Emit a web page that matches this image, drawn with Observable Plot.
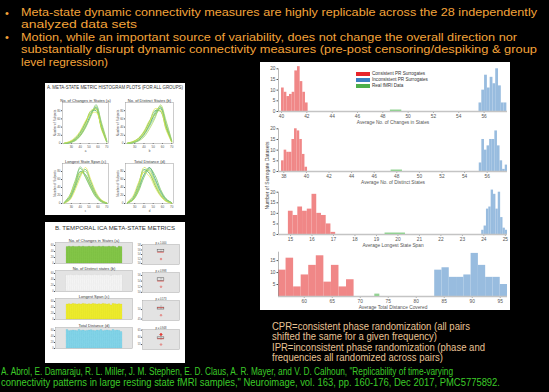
<!DOCTYPE html>
<html><head><meta charset="utf-8">
<script src="https://cdn.jsdelivr.net/npm/d3@7"></script>
<script src="https://cdn.jsdelivr.net/npm/@observablehq/plot@0.6"></script>
<style>
html,body{margin:0;padding:0;background:#000;}
#root{position:relative;width:549px;height:392px;overflow:hidden;background:#000;font-family:"Liberation Sans",Arial,sans-serif;}
.abs{position:absolute;white-space:nowrap;transform-origin:0 50%;}
.panel{position:absolute;background:#fff;overflow:hidden;}
.panel svg{position:absolute;overflow:visible;}
</style></head><body><div id="root"></div>
<script>
// ---------------- DATA ----------------
const bulletLines = [
  "Meta-state dynamic connectivity measures are highly replicable across the 28 independently",
  "analyzed data sets",
  "Motion, while an important source of variability, does not change the overall direction nor",
  "substantially disrupt dynamic connectivity measures (pre-post censoring/despiking & group",
  "level regression)"
];
const captionLines = [
  "CPR=consistent phase randomization (all pairs",
  "shifted the same for a given frequency)",
  "IPR=inconsistent phase randomization (phase and",
  "frequencies all randomized across pairs)"
];
const citationLines = [
  "A. Abrol, E. Damaraju, R. L. Miller, J. M. Stephen, E. D. Claus, A. R. Mayer, and V. D. Calhoun, \"Replicability of time-varying",
  "connectivity patterns in large resting state fMRI samples,\" Neuroimage, vol. 163, pp. 160-176, Dec 2017, PMC5775892."
];
const seriesNames = ["Consistent PR Surrogates", "Inconsistent PR Surrogates", "Real fMRI Data"];
const histLabels = ["Average No. of Changes in States", "Average No. of Distinct States", "Average Longest State Span", "Average Total Distance Covered"];
const yAxisTitle = "Number of Surrogate Datasets";

// histogram 1: changes in states
const chgRedEdges = [40.0,40.21,40.42,40.63,40.84,41.05,41.26,41.47,41.68,41.89,42.1];
const chgRedCounts = [11,9,7,8,9,19,21,14,9,4];
const chgBlueEdges = [55.6,55.82,56.04,56.26,56.48,56.7,56.92,57.14,57.36,57.58,57.8];
const chgBlueCounts = [4,10,17,11,16,13,20,12,4,4];
const chgGreenEdges = [48.6,49.5];
const chgGreenCounts = [0.7];
const chgTicks = [40,42,44,46,48,50,52,54,56];

// histogram 2: distinct states
const dstRedEdges = [37.8,38.03,38.26,38.49,38.72,38.95,39.18,39.41,39.64,39.87,40.1];
const dstRedCounts = [5,10,9,9,15,20,19,15,8,2];
const dstBlueEdges = [55.3,55.53,55.76,55.99,56.22,56.45,56.68,56.91,57.14,57.37,57.6,57.8];
const dstBlueCounts = [4,15,10,12,15,15,19,12,5,1,3];
const dstGreenEdges = [47.5,48.5];
const dstGreenCounts = [0.7];
const dstTicks = [38,40,42,44,46,48,50,52,54,56];

// histogram 3: longest state span
const spnRedEdges = [14.9,15.12,15.34,15.56,15.78,16.0,16.22,16.44,16.66,16.88,17.1];
const spnRedCounts = [11,9,13,11,12,19,10,9,5,1];
const spnBlueEdges = [23.9,24.01,24.12,24.23,24.34,24.45,24.56,24.67,24.78,24.89,25.0,25.1];
const spnBlueCounts = [2,4,12,13,21,19,12,20,8,3,2];
const spnGreenEdges = [19.4,20.35];
const spnGreenCounts = [0.7];
const spnTicks = [15,16,17,18,19,20,21,22,23,24,25];

// histogram 4: total distance covered
const dstcRedEdges = [55.4,56.75,58.1,59.45,60.8,62.15,63.5,64.85,66.2,67.55,68.9];
const dstcRedCounts = [11,16,4,9,13,17,6,13,4,7];
const dstcBlueEdges = [83.3,84.6,85.9,87.2,88.5,89.8,91.1,92.4,93.7,95.0,96.3];
const dstcBlueCounts = [11,12,8,8,9,18,13,8,8,5];
const dstcGreenEdges = [72.6,73.5];
const dstcGreenCounts = [1];
const dstcTicks = [60,65,70,75,80,85,90,95];

// panel A: per-group histogram curves
const panelATitle = "A.  META-STATE METRIC HISTOGRAM PLOTS (FOR ALL GROUPS)";
const curveTitles = ["No. of Changes in States (a)", "No. of Distinct States (b)", "Longest State Span (c)", "Total Distance (d)"];
const curveLetters = ["a","b","c","d"];
const curveX = [22,28,34,40,46,52,58,64,70];
const changesCurves = [
  [0,2,8,20,42,70,88,45,5],[0,3,10,25,50,78,80,38,4],[1,4,12,28,52,74,85,40,6],
  [0,2,6,18,38,66,92,52,8],[0,3,9,22,46,80,84,35,3],[1,5,14,30,55,72,76,42,7],[0,2,7,19,40,68,95,48,5]];
const distinctCurves = [
  [0,2,8,22,45,72,86,42,4],[1,4,12,28,54,80,78,36,5],[0,3,9,24,48,76,90,44,6],
  [0,2,6,16,36,62,94,55,8],[1,5,13,30,56,70,82,40,5],[0,3,10,25,50,85,80,33,3],[0,2,7,20,42,66,88,50,7]];
const spanCurves = [
  [2,15,45,80,72,45,20,6,1],[1,10,38,70,85,55,25,8,1],[3,20,55,88,65,38,15,4,0],
  [1,12,40,75,80,50,22,7,1],[2,18,50,78,70,42,18,5,1],[1,8,32,65,90,60,28,9,2],[2,14,46,92,68,40,17,5,1]];
const distanceCurves = [
  [1,10,35,72,90,62,30,10,2],[2,15,48,85,75,45,20,6,1],[1,8,30,65,88,70,35,12,2],
  [2,12,42,80,82,52,24,8,1],[1,9,36,90,78,48,22,7,1],[3,18,52,78,68,40,18,5,1],[1,11,40,70,85,58,28,9,2]];
const curveXTicks = [30,40,50,60,70];
const curveYTicks = [0,20,40,60,80];

// panel B: temporal ICA metrics over 28 datasets
const panelBTitle = "B.     TEMPORAL ICA META-STATE METRICS";
const barTitles = ["No. of Changes in States (a)", "No. of Distinct states (b)", "Longest Span (c)", "Total Distance (d)"];
const datasetIds = d3.range(1, 29);
const changesDS = [55,56,55,56,55,55,56,55,56,55,55,56,55,56,55,55,56,55,56,55,55,56,55,56,55,52,56,55];
const distinctDS = [54,54,55,54,54,55,54,54,55,54,54,55,54,54,55,54,54,55,54,54,55,54,52,54,55,54,54,55];
const spanDS = [50,51,50,52,51,50,51,50,52,51,50,51,50,52,51,50,51,50,52,51,50,51,47,52,51,50,51,50];
const distanceDS = [62,58,59,60,59,58,62,59,60,58,59,60,61,59,58,60,59,62,58,59,60,59,58,62,59,60,59,55];
const boxPvals = ["p = 1.000", "p = 0.998", "p = 0.573", "p = 0.948"];

// ---------------- STYLES / LAYOUT ----------------
const FONT = "'Liberation Sans', Arial, sans-serif";
const root = document.getElementById("root");
const red = "#f08787", blue = "#98bcdf", green = "#94d294";
const legRed = "#e8252a", legBlue = "#3c7fc1", legGreen = "#4daf4a";

function addText(parent, text, {x, y, size, color, width, lh}) {
  const h = lh || size;
  const el = document.createElement("div");
  el.className = "abs";
  el.textContent = text;
  el.style.left = x + "px";
  el.style.top = (y - h / 2) + "px";
  el.style.fontSize = size + "px";
  el.style.lineHeight = h + "px";
  el.style.height = h + "px";
  el.style.color = color;
  el.style.fontFamily = FONT;
  parent.appendChild(el);
  if (width) {
    const w = el.getBoundingClientRect().width;
    el.style.transform = `scaleX(${width / w})`;
  }
  return el;
}
function panel(x, y, w, h) {
  const d = document.createElement("div");
  d.className = "panel";
  Object.assign(d.style, {left: x + "px", top: y + "px", width: w + "px", height: h + "px"});
  root.appendChild(d);
  return d;
}
function place(parent, svg, x, y) {
  svg.style.left = x + "px"; svg.style.top = y + "px";
  parent.appendChild(svg);
}

// ---------------- TOP BULLETS ----------------
const orange = "#f4a43a";
const bulletY = [12.5, 24.9, 37.3, 49.7, 62.1];
const bulletW = [516, 116, 496, 516, 87];
bulletLines.forEach((t, i) => addText(root, t, {x: 21, y: bulletY[i], size: 11, lh: 11, color: orange, width: bulletW[i]}));
addText(root, "•", {x: 5, y: bulletY[0], size: 11, lh: 10, color: orange});
addText(root, "•", {x: 5, y: bulletY[2], size: 11, lh: 10, color: orange});

// ---------------- RIGHT PANEL: HISTOGRAMS ----------------
const R = panel(260, 62, 250, 248);
const toBins = (edges, counts) => counts.map((c, i) => ({x1: edges[i], x2: edges[i + 1], y: c}));
function hist({domain, yDomain, yTicks, xTicks, label, red: r, blue: b, green: g, marginTop}) {
  return Plot.plot({
    width: 250, height: 62, marginTop, marginBottom: 13, marginLeft: 18, marginRight: 3,
    style: {background: "transparent", fontSize: "4.8px", color: "#555", fontFamily: FONT},
    x: {domain, ticks: xTicks, label, labelAnchor: "center", labelOffset: 12.5, labelArrow: "none", tickSize: 1.5, tickPadding: 1.5},
    y: {domain: yDomain, ticks: yTicks, label: null, tickSize: 1.5, tickPadding: 1.5},
    marks: [
      Plot.rectY(r, {x1: "x1", x2: "x2", y: "y", fill: red, insetLeft: 0, insetRight: 0}),
      Plot.rectY(b, {x1: "x1", x2: "x2", y: "y", fill: blue, insetLeft: 0, insetRight: 0}),
      Plot.ruleY([0], {stroke: "#c4c4c4", strokeWidth: 1.3}),
      Plot.rectY(g, {x1: "x1", x2: "x2", y: "y", fill: green, insetLeft: 0, insetRight: 0}),
      Plot.ruleX([domain[0]], {stroke: "#8a8a8a", strokeWidth: 0.6})
    ]
  });
}
place(R, hist({domain: [39.76, 57.85], yDomain: [0, 20], yTicks: [0,5,10,15,20], xTicks: chgTicks, label: histLabels[0],
  red: toBins(chgRedEdges, chgRedCounts), blue: toBins(chgBlueEdges, chgBlueCounts), green: toBins(chgGreenEdges, chgGreenCounts), marginTop: 6.3}), 0, 0);
place(R, hist({domain: [37.53, 57.8], yDomain: [0, 20], yTicks: [0,5,10,15,20], xTicks: dstTicks, label: histLabels[1],
  red: toBins(dstRedEdges, dstRedCounts), blue: toBins(dstBlueEdges, dstBlueCounts), green: toBins(dstGreenEdges, dstGreenCounts), marginTop: 6.3}), 0, 60);
place(R, hist({domain: [14.44, 25.1], yDomain: [0, 20], yTicks: [0,5,10,15,20], xTicks: spnTicks, label: histLabels[2],
  red: toBins(spnRedEdges, spnRedCounts), blue: toBins(spnBlueEdges, spnBlueCounts), green: toBins(spnGreenEdges, spnGreenCounts), marginTop: 6.7}), 0, 123);
place(R, hist({domain: [55.4, 96.3], yDomain: [0, 18.5], yTicks: [5,10,15], xTicks: dstcTicks, label: histLabels[3],
  red: toBins(dstcRedEdges, dstcRedCounts), blue: toBins(dstcBlueEdges, dstcBlueCounts), green: toBins(dstcGreenEdges, dstcGreenCounts), marginTop: 4.7}), 0, 185);

// legend
[legRed, legBlue, legGreen].forEach((c, i) => {
  const sw = document.createElement("div");
  Object.assign(sw.style, {position: "absolute", left: "96px", top: (10 + i * 6.1) + "px", width: "14px", height: "3.8px", background: c});
  R.appendChild(sw);
  addText(R, seriesNames[i], {x: 112, y: 12 + i * 6.1, size: 4.6, color: "#333"});
});
// shared y label
const yl = addText(R, yAxisTitle, {x: 5, y: 113, size: 5, color: "#444"});
yl.style.transformOrigin = "50% 50%";
yl.style.left = (5 - yl.getBoundingClientRect().width / 2 + 2.5) + "px";
yl.style.transform = "rotate(-90deg)";

// ---------------- PANEL A ----------------
const A = panel(45, 83, 140, 132);
addText(A, panelATitle, {x: 2, y: 4, size: 5, color: "#333", width: 136});
const curvePalette = ["#1f8f6a","#3aa55a","#6cbf4a","#9fd24a","#c8df3a","#e2e64e","#86c98a"];
const curveSets = [changesCurves, distinctCurves, spanCurves, distanceCurves];
const curveAreas = [[17, 19, 46, 41], [80, 19, 48, 41], [17, 80, 46, 40], [80, 80, 48, 40]];
curveSets.forEach((set, k) => {
  const pts = set.flatMap((ys, j) => ys.map((y, i) => ({x: curveX[i], y, g: j})));
  const [ax, ay, aw, ah] = curveAreas[k];
  const svg = Plot.plot({
    width: aw + 15, height: ah + 17, marginLeft: 13, marginRight: 2, marginTop: 8, marginBottom: 9,
    style: {background: "transparent", fontSize: "3px", color: "#555", fontFamily: FONT},
    x: {domain: [20, 72], ticks: curveXTicks, label: curveLetters[k], labelAnchor: "center", labelOffset: 8.5, labelArrow: "none", tickSize: 1, tickPadding: 1},
    y: {domain: [0, 100], ticks: curveYTicks, label: "Number of Subjects", labelAnchor: "center", labelOffset: 9, labelArrow: "none", tickSize: 1, tickPadding: 1},
    color: {domain: d3.range(set.length), range: curvePalette},
    marks: [
      Plot.frame({stroke: "#999", strokeWidth: 0.5}),
      Plot.line(pts, {x: "x", y: "y", z: "g", stroke: "g", strokeWidth: 0.7, curve: "catmull-rom"}),
      Plot.text([curveTitles[k]], {frameAnchor: "top", dy: -3.5, fontSize: 4, fill: "#333"})
    ]
  });
  place(A, svg, ax - 13, ay - 8);
});

// ---------------- PANEL B ----------------
const B = panel(45, 222, 140, 141);
addText(B, panelBTitle, {x: 10, y: 6, size: 6, color: "#333", width: 120});
const dsSets = [changesDS, distinctDS, spanDS, distanceDS];
const barFills = ["#86c84a", "#f7f7f7", "#f0ee2e", "#86d6ea"];
const barStrokes = ["#5fa82e", "#c8c8c8", "#c9c61a", "#52b4cc"];
const barTops = [20, 48, 76, 105];
dsSets.forEach((vals, k) => {
  const data = vals.map((v, i) => ({id: datasetIds[i], v}));
  const svgBar = Plot.plot({
    width: 90, height: 33, marginLeft: 10, marginRight: 3, marginTop: 6, marginBottom: 6,
    style: {background: "transparent", fontSize: "2.6px", color: "#555", fontFamily: FONT},
    x: {type: "band", domain: datasetIds, padding: 0.12, axis: null},
    y: {domain: [0, 70], ticks: [0, 20, 40, 60], label: null, tickSize: 1, tickPadding: 0.8},
    marks: [
      Plot.frame({fill: "#e3e3e3", stroke: "#999", strokeWidth: 0.4}),
      Plot.barY(data, {x: "id", y: "v", fill: barFills[k], stroke: barStrokes[k], strokeWidth: 0.3, strokeDasharray: "0.6,0.6"}),
      Plot.text([barTitles[k]], {frameAnchor: "top", dy: -3.3, fontSize: 4, fill: "#333"})
    ]
  });
  place(B, svgBar, 0, barTops[k] - 6);
  // boxplot summary
  const s = vals.slice().sort(d3.ascending);
  const q1 = d3.quantile(s, 0.25), q2 = d3.quantile(s, 0.5), q3 = d3.quantile(s, 0.75);
  const iqr = q3 - q1;
  const lo = d3.min(s.filter(v => v >= q1 - 1.5 * iqr)), hi = d3.max(s.filter(v => v <= q3 + 1.5 * iqr));
  const outs = s.filter(v => v < lo || v > hi);
  const ext = d3.extent(s);
  const pad = (ext[1] - ext[0]) * 0.35 + 1;
  const svgBox = Plot.plot({
    width: 45, height: 33, marginLeft: 5, marginRight: 3, marginTop: 8, marginBottom: 5,
    style: {background: "transparent", fontSize: "2.6px", color: "#555", fontFamily: FONT},
    x: {domain: [0, 2], axis: null},
    y: {domain: [ext[0] - pad, ext[1] + pad], ticks: 3, label: null, tickSize: 1, tickPadding: 0.8},
    marks: [
      Plot.frame({fill: "#e3e3e3", stroke: "#999", strokeWidth: 0.4}),
      Plot.ruleX([1], {y1: lo, y2: hi, stroke: "#555", strokeWidth: 0.4, strokeDasharray: "1,0.6"}),
      Plot.rect([0], {x1: 0.82, x2: 1.18, y1: q1, y2: q3, fill: "none", stroke: "#555", strokeWidth: 0.5}),
      Plot.ruleY([q2], {x1: 0.82, x2: 1.18, stroke: "#e0302a", strokeWidth: 0.6}),
      Plot.dot(outs, {x: 1, y: d => d, r: 0.8, stroke: "#e0302a", strokeWidth: 0.5}),
      Plot.text([boxPvals[k]], {frameAnchor: "top", dy: -2.5, fontSize: 2.6, fill: "#333"})
    ]
  });
  place(B, svgBox, 92, barTops[k] - 6);
});

// ---------------- CAPTION & CITATION ----------------
const capY = [326.5, 337, 347.5, 358];
const capW = [198, 165, 213, 171];
captionLines.forEach((t, i) => addText(root, t, {x: 272, y: capY[i], size: 10, color: "#e8c394", width: capW[i]}));
const citeY = [372, 383];
const citeW = [452, 499];
citationLines.forEach((t, i) => addText(root, t, {x: 0.5, y: citeY[i], size: 10, color: "#3ccb28", width: citeW[i]}));
</script></body></html>
